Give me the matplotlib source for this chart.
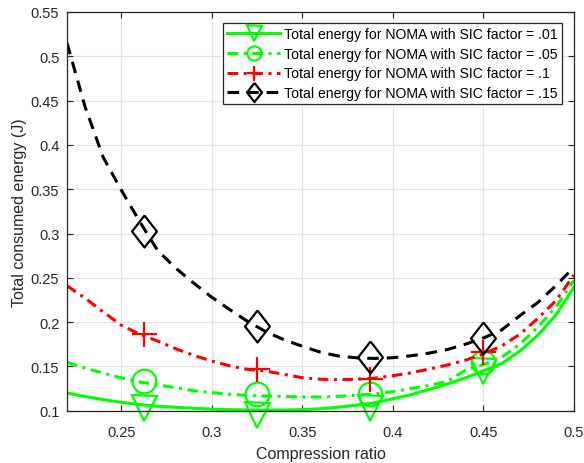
import numpy as np
import matplotlib
matplotlib.use("Agg")
import matplotlib.pyplot as plt
from matplotlib.lines import Line2D
from matplotlib.ticker import FormatStrFormatter

plt.rcParams['font.family'] = ['Liberation Sans', 'DejaVu Sans']

# curve samples
ratio = [0.22, 0.23, 0.24, 0.25, 0.26, 0.27, 0.28, 0.29, 0.30, 0.31,
         0.32, 0.33, 0.34, 0.35, 0.36, 0.37, 0.38, 0.39, 0.40, 0.41,
         0.42, 0.43, 0.44, 0.45, 0.46, 0.47, 0.48, 0.49, 0.50]
e_01 = [0.120, 0.116, 0.1125, 0.1095, 0.107, 0.105, 0.1038, 0.1027, 0.1018, 0.1012,
        0.1008, 0.1007, 0.1008, 0.1012, 0.1022, 0.104, 0.1062, 0.109, 0.1135, 0.118,
        0.124, 0.130, 0.137, 0.145, 0.153, 0.167, 0.185, 0.208, 0.239]
e_05 = [0.1547, 0.148, 0.1425, 0.137, 0.1325, 0.1293, 0.126, 0.1225, 0.1205, 0.1186,
        0.1172, 0.1165, 0.116, 0.1155, 0.1155, 0.1162, 0.1175, 0.119, 0.1215, 0.125,
        0.1285, 0.133, 0.1455, 0.152, 0.160, 0.175, 0.194, 0.217, 0.247]
e_10 = [0.241, 0.227, 0.2115, 0.1965, 0.1865, 0.1787, 0.170, 0.1625, 0.156, 0.1505,
        0.1465, 0.1447, 0.141, 0.1372, 0.1355, 0.135, 0.1355, 0.1368, 0.1395, 0.1428,
        0.147, 0.1515, 0.157, 0.164, 0.173, 0.186, 0.204, 0.224, 0.253]
e_15 = [0.515, 0.443, 0.386, 0.349, 0.314, 0.281, 0.261, 0.244, 0.228, 0.214,
        0.2005, 0.189, 0.180, 0.1727, 0.166, 0.1617, 0.1597, 0.159, 0.1598, 0.162,
        0.165, 0.169, 0.175, 0.182, 0.191, 0.207, 0.222, 0.241, 0.262]

# marker points
mark_x = [0.2625, 0.325, 0.3875, 0.45]
m_01 = [0.103, 0.0957, 0.1025, 0.1452]
m_05 = [0.1339, 0.1189, 0.1189, 0.1547]
m_10 = [0.1867, 0.147, 0.136, 0.166]
m_15 = [0.3023, 0.1954, 0.1603, 0.1818]

labels = ['Total energy for NOMA with SIC factor = .01',
          'Total energy for NOMA with SIC factor = .05',
          'Total energy for NOMA with SIC factor = .1',
          'Total energy for NOMA with SIC factor = .15']

green = '#00ff00'
diamond = [(0, 1), (0.78, 0), (0, -1), (-0.78, 0), (0, 1)]
dashdot = (0, (3.5, 1.8, 1, 1.8))
dashed = (0, (3.8, 2.6))

styles = [
    (e_01, m_01, green, '-', 'v', 18),
    (e_05, m_05, green, dashdot, 'o', 17),
    (e_10, m_10, 'red', dashdot, '+', 18),
    (e_15, m_15, 'black', dashed, diamond, 23),
]

fig = plt.figure(figsize=(5.84, 4.64), dpi=100)
ax = fig.add_axes([0.1147, 0.1127, 0.868, 0.8593])

handles = []
for (ys, ms, c, ls, mk, sz), lab in zip(styles, labels):
    ax.plot(ratio, ys, color=c, linestyle=ls, linewidth=2.2)
    ax.plot(mark_x, ms, color=c, linestyle='none', marker=mk, markersize=sz,
            markerfacecolor='none', markeredgewidth=1.6, clip_on=False)
    handles.append(Line2D([], [], color=c, linestyle=ls, linewidth=2.2, marker=mk,
                          markersize=sz * 0.6, markerfacecolor='none',
                          markeredgewidth=1.6, label=lab))

ax.set_xlim(0.22, 0.5)
ax.set_ylim(0.1, 0.55)
ax.set_xticks([0.25, 0.3, 0.35, 0.4, 0.45, 0.5])
ax.set_yticks(np.arange(0.1, 0.5501, 0.05))
ax.xaxis.set_major_formatter(FormatStrFormatter('%g'))
ax.yaxis.set_major_formatter(FormatStrFormatter('%g'))
ax.grid(True, color='#e3e3e3', linewidth=0.9)
ax.set_axisbelow(True)
ax.tick_params(direction='in', top=True, right=True, labelsize=10.5,
               colors='#262626', length=4, width=0.8)
ax.tick_params(axis='x', pad=10.5)
ax.tick_params(axis='y', pad=5.5)
for s in ax.spines.values():
    s.set_color('#262626')
    s.set_linewidth(0.9)

ax.set_xlabel('Compression ratio', fontsize=11.5, color='#262626', labelpad=5)
ax.set_ylabel('Total consumed energy (J)', fontsize=11.5, color='#262626', labelpad=3)

leg = ax.legend(handles=handles, loc='upper right', bbox_to_anchor=(0.9757, 0.9724),
                borderaxespad=0, fontsize=10.1, fancybox=False, framealpha=1,
                edgecolor='#262626', handlelength=3.8, handletextpad=0.25,
                labelspacing=0.4, borderpad=0.3)
leg.get_frame().set_linewidth(0.9)

fig.savefig('out.png', dpi=100)
